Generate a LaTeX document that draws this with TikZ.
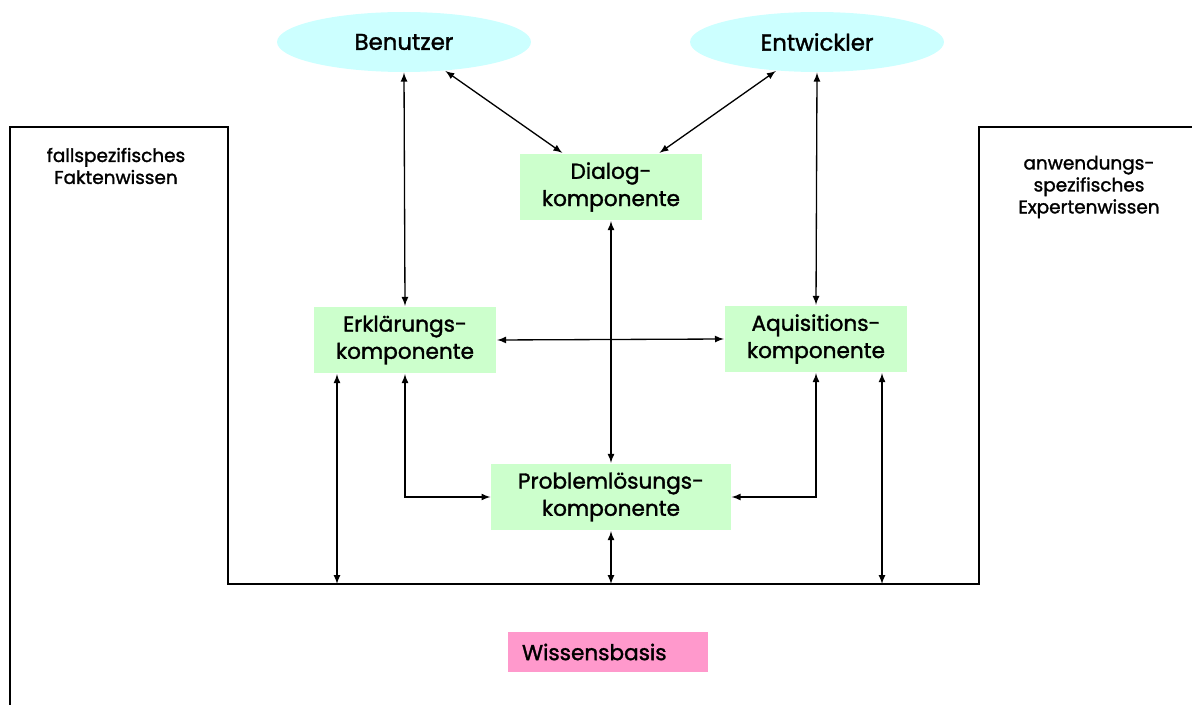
\documentclass[tikz,border=0pt]{standalone}
\usepackage{fontspec}
\setmainfont{Poppins}[FakeBold=1.5]
\usetikzlibrary{shapes.geometric}

\definecolor{kompgreen}{RGB}{204,255,204}
\definecolor{personblue}{RGB}{204,255,255}
\definecolor{basispink}{RGB}{255,153,204}

\begin{document}
\begin{tikzpicture}[x=0.02cm, y=-0.02cm,
                    >=latex, line width=0.75pt,
                    font=\fontsize{12.3}{15.5}\selectfont,
                    komp/.style={fill=kompgreen, align=center, inner sep=0pt,
                                 minimum width=3.66cm, minimum height=1.34cm},
                    person/.style={ellipse, fill=personblue, inner sep=0pt,
                                   minimum width=5.08cm, minimum height=1.2cm,
                                   font=\fontsize{13}{15}\selectfont},
                    wissen/.style={align=center, font=\fontsize{10.5}{12.5}\selectfont}
                   ]
\useasboundingbox (0,0) rectangle (1192,705);

\node [person] (benutzer)   at (404,42)  {Benutzer};
\node [person] (entwickler) at (817,42)  {Entwickler};
\node [komp] (dialog)   at (611,187) {Dialog-\\komponente};
\node [komp] (erkl)     at (405,340) {Erklärungs-\\komponente};
\node [komp] (aqui)     at (816,339) {Aquisitions-\\komponente};
\node [komp, minimum width=4.8cm] (problem) at (611,497) {Problemlösungs-\\komponente};
\node [fill=basispink, minimum width=4cm, minimum height=0.8cm, inner xsep=0.28cm,
       text width=3.44cm, align=left, font=\fontsize{12.3}{14}\selectfont]
      (basis) at (608,652) {Wissensbasis};

\node [wissen] (fakten)   at (116,166) {fallspezifisches\\Faktenwissen};
\node [wissen] (experten) at (1089,187) {anwendungs-\\spezifisches\\Expertenwissen};

\draw (10,705) -- (10,127) -- (228,127) -- (228,584) -- (979,584)
      -- (979,127) -- (1192,127);
\coordinate (base) at (611,584);

\draw [<->] (benutzer) -- (dialog);
\draw [<->] (entwickler) -- (dialog);
\draw [<->] (benutzer.south) -- (erkl.north);
\draw [<->] (entwickler.south) -- (aqui.north);
\draw [<->] (dialog.south) -- (problem.north);
\draw [<->] (erkl.east) -- (aqui.west);
\draw [<->] (erkl.south) |- (problem.west);
\draw [<->] (aqui.south) |- (problem.east);

\foreach \from/\x in {erkl/337, problem/611, aqui/882}
    \draw [<->] (\from.south -| \x,0) -- (\x,0 |- base);
\end{tikzpicture}
\end{document}
